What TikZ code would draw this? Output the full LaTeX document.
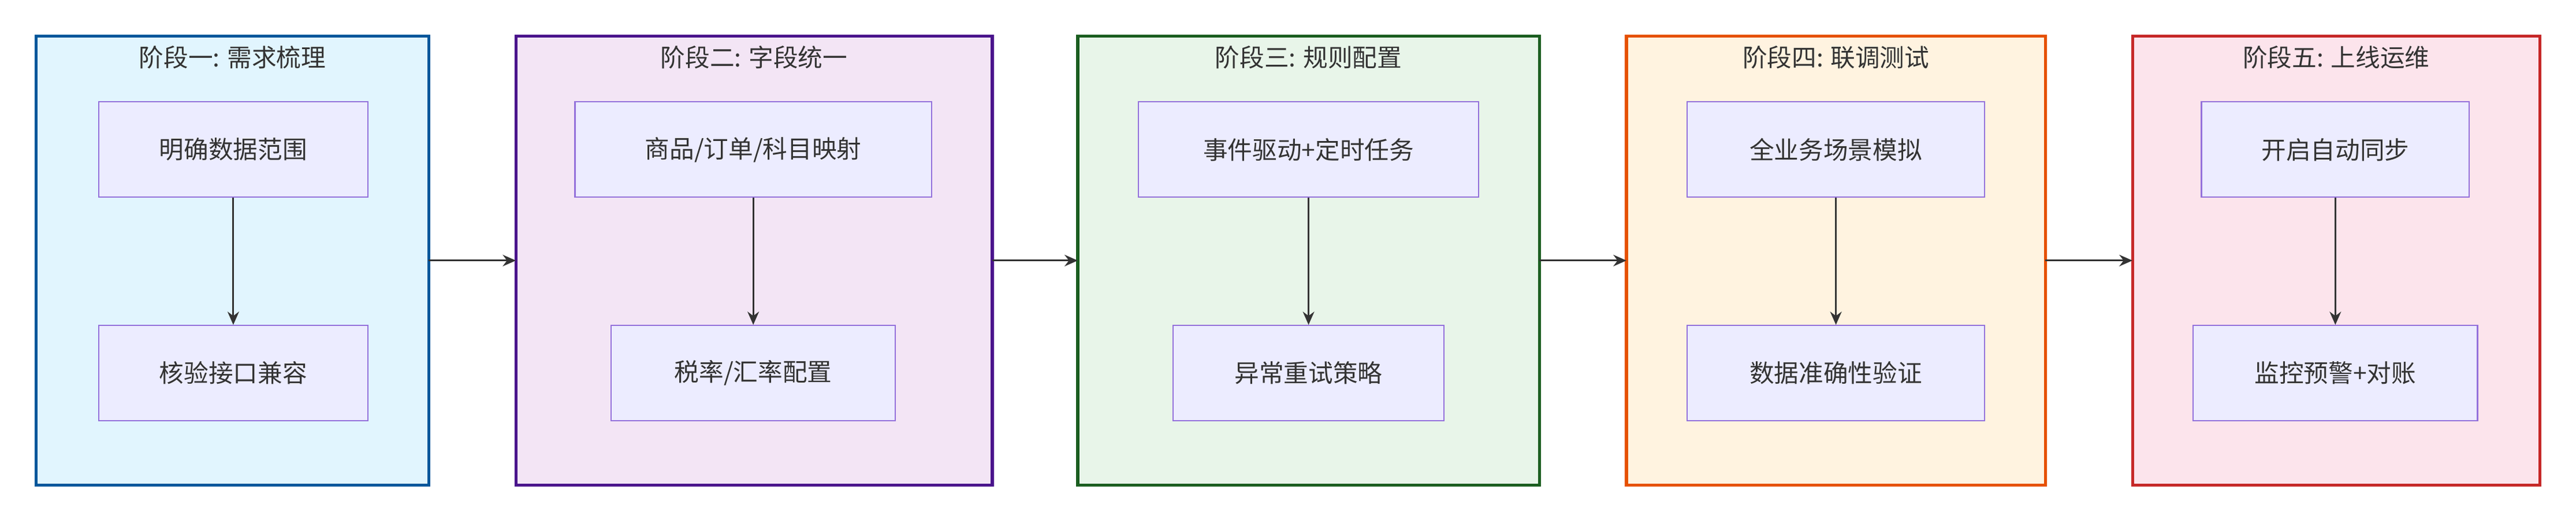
\documentclass[tikz,border=0pt]{standalone}
\usepackage{fontspec}
\setmainfont{Noto Sans CJK SC}
\usetikzlibrary{arrows.meta}
\definecolor{f1}{HTML}{E1F5FE}\definecolor{b1}{HTML}{01579B}
\definecolor{f2}{HTML}{F3E5F5}\definecolor{b2}{HTML}{4A148C}
\definecolor{f3}{HTML}{E8F5E9}\definecolor{b3}{HTML}{1B5E20}
\definecolor{f4}{HTML}{FFF3E0}\definecolor{b4}{HTML}{E65100}
\definecolor{f5}{HTML}{FCE4EC}\definecolor{b5}{HTML}{C62828}
\definecolor{nf}{HTML}{ECECFF}\definecolor{nb}{HTML}{9370DB}
\definecolor{ar}{HTML}{333333}
\begin{document}
\begin{tikzpicture}[x=1pt,y=-1pt,
  stage/.style={draw=#1,line width=1.8pt,inner sep=0},
  item/.style={draw=nb,fill=nf,line width=0.8pt,font=\fontsize{15}{18}\selectfont,text=ar},
  title/.style={font=\fontsize{15}{18}\selectfont,text=ar},
  arr/.style={draw=ar,line width=1pt,-{Stealth[length=8pt,width=7pt]}}]
\useasboundingbox[fill=white] (0,0) rectangle (1568,318);
\newcommand{\stg}[6]{% name, x1, x2, fill, border, title
  \draw[fill=#4,draw=#5,line width=1.8pt] (#2,22) rectangle (#3,295);
  \node[inner sep=0] (#1) at ({(#2+#3)/2},158.5) {};
  \coordinate (#1l) at (#2,158.5); \coordinate (#1r) at (#3,158.5);
  \node[title] (#1t) at ({(#2+#3)/2},35) {#6};}
\newcommand{\itm}[6]{% name, x1, x2, y1, y2, text
  \node[item,minimum width={#3-#2},minimum height={#5-#4}] (#1) at ({(#2+#3)/2},{(#4+#5)/2}) {#6};}
\stg{s1}{22}{261}{f1}{b1}{阶段一: 需求梳理}
\stg{s2}{314}{604}{f2}{b2}{阶段二: 字段统一}
\stg{s3}{656}{937}{f3}{b3}{阶段三: 规则配置}
\stg{s4}{990}{1245}{f4}{b4}{阶段四: 联调测试}
\stg{s5}{1298}{1546}{f5}{b5}{阶段五: 上线运维}
\itm{a1}{60}{224}{62}{120}{明确数据范围}
\itm{a2}{60}{224}{198}{256}{核验接口兼容}
\itm{b1n}{350}{567}{62}{120}{商品/订单/科目映射}
\itm{b2n}{372}{545}{198}{256}{税率/汇率配置}
\itm{c1}{693}{900}{62}{120}{事件驱动+定时任务}
\itm{c2}{714}{879}{198}{256}{异常重试策略}
\itm{d1}{1027}{1208}{62}{120}{全业务场景模拟}
\itm{d2}{1027}{1208}{198}{256}{数据准确性验证}
\itm{e1}{1340}{1503}{62}{120}{开启自动同步}
\itm{e2}{1335}{1508}{198}{256}{监控预警+对账}
\foreach \u/\v in {a1/a2,b1n/b2n,c1/c2,d1/d2,e1/e2} \draw[arr] (\u) -- (\v);
\foreach \u/\v in {s1/s2,s2/s3,s3/s4,s4/s5} \draw[arr] (\u r) -- (\v l);
\end{tikzpicture}
\end{document}
